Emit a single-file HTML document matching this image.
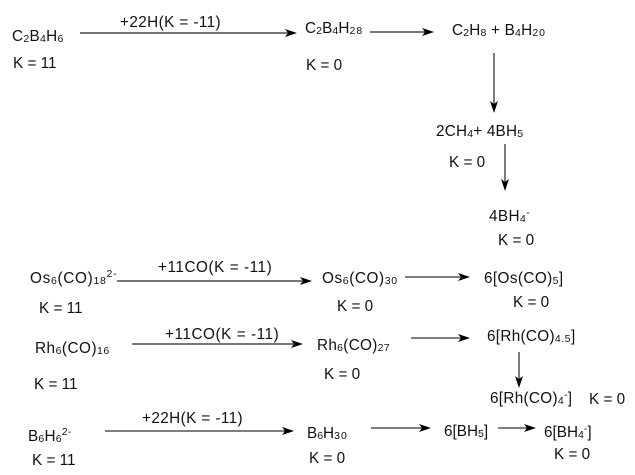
<!DOCTYPE html>
<html><head><meta charset="utf-8"><style>
html,body{margin:0;padding:0;background:#fff;width:635px;height:475px;overflow:hidden}
svg{display:block}
text{font-family:"Liberation Sans",Arial,sans-serif;font-size:15.3px;fill:#111}
.s{font-size:10.5px}
</style></head><body>
<svg width="635" height="475" viewBox="0 0 635 475" xmlns="http://www.w3.org/2000/svg">
<defs>
<path id="h" d="M0 0L-12-4L-9 0L-12 4Z" fill="#000"/>
<path id="v" d="M0 0L-4-12L0-9L4-12Z" fill="#000"/>
</defs>
<g stroke="#777" stroke-width="2" fill="none">
<path d="M80 33H290"/><path d="M370 32H428"/><path d="M117 281H306"/><path d="M132 344H297"/>
</g>
<g stroke="#333" stroke-width="1.3" fill="none">
<path d="M105 431H288"/><path d="M405 277H464"/><path d="M411 338H464"/><path d="M371 428H425"/><path d="M498 428H530"/>
<path d="M494 53V106"/><path d="M505 144V184"/><path d="M519 352V382"/>
</g>
<use href="#h" x="297" y="33"/><use href="#h" x="434" y="32"/><use href="#h" x="312" y="281"/><use href="#h" x="303" y="344"/>
<use href="#h" x="294" y="431"/><use href="#h" x="470" y="277"/><use href="#h" x="470" y="338"/><use href="#h" x="431" y="428"/><use href="#h" x="536" y="428"/>
<use href="#v" x="494" y="113"/><use href="#v" x="505" y="191"/><use href="#v" x="519" y="388"/>

<text x="12" y="41" letter-spacing=".3">C<tspan class="s" dy="1">2</tspan><tspan dy="-1">B</tspan><tspan class="s" dy="1">4</tspan><tspan dy="-1">H</tspan><tspan class="s" dy="1">6</tspan></text>
<text x="13" y="68">K = 11</text>
<text x="120" y="27" letter-spacing=".4">+22H(K = -11)</text>
<text x="305" y="33" letter-spacing=".1">C<tspan class="s" dy="1">2</tspan><tspan dy="-1">B</tspan><tspan class="s" dy="1">4</tspan><tspan dy="-1">H</tspan><tspan class="s" dy="1" letter-spacing="1">28</tspan></text>
<text x="306" y="70">K = 0</text>
<text x="452" y="35" letter-spacing=".2">C<tspan class="s" dy="1">2</tspan><tspan dy="-1">H</tspan><tspan class="s" dy="1">8</tspan><tspan dy="-1"> + B</tspan><tspan class="s" dy="1">4</tspan><tspan dy="-1">H</tspan><tspan class="s" dy="1" letter-spacing="1">20</tspan></text>
<text x="436" y="136" letter-spacing=".2">2CH<tspan class="s" dy="1">4</tspan><tspan dy="-1">+ 4BH</tspan><tspan class="s" dy="1">5</tspan></text>
<text x="449" y="167">K = 0</text>
<text x="489" y="221" letter-spacing=".4">4BH<tspan class="s" dy="1">4</tspan><tspan class="s" dy="-6">-</tspan></text>
<text x="498" y="245">K = 0</text>

<text x="30" y="283" letter-spacing=".7">Os<tspan class="s" dy="1">6</tspan><tspan dy="-1">(CO)</tspan><tspan class="s" dy="1">18</tspan><tspan class="s" dy="-7">2-</tspan></text>
<text x="39" y="313">K = 11</text>
<text x="158" y="272" letter-spacing=".55">+11CO(K = -11)</text>
<text x="322" y="283" letter-spacing=".6">Os<tspan class="s" dy="1">6</tspan><tspan dy="-1">(CO)</tspan><tspan class="s" dy="1">30</tspan></text>
<text x="337" y="311">K = 0</text>
<text x="484" y="283" letter-spacing=".4">6[Os(CO)<tspan class="s" dy="1">5</tspan><tspan dy="-1">]</tspan></text>
<text x="513" y="307">K = 0</text>

<text x="35" y="353" letter-spacing=".5">Rh<tspan class="s" dy="1">6</tspan><tspan dy="-1">(CO)</tspan><tspan class="s" dy="1">16</tspan></text>
<text x="34" y="389">K = 11</text>
<text x="165" y="339" letter-spacing=".55">+11CO(K = -11)</text>
<text x="317" y="350" letter-spacing=".3">Rh<tspan class="s" dy="1">6</tspan><tspan dy="-1">(CO)</tspan><tspan class="s" dy="1">27</tspan></text>
<text x="324" y="379">K = 0</text>
<text x="487" y="341" letter-spacing=".3">6[Rh(CO)<tspan class="s" dy="1" letter-spacing=".5">4.5</tspan><tspan dy="-1">]</tspan></text>
<text x="490" y="403" letter-spacing=".3">6[Rh(CO)<tspan class="s" dy="1">4</tspan><tspan class="s" dy="-6">-</tspan><tspan dy="5">]</tspan></text>
<text x="589" y="404">K = 0</text>

<text x="28" y="441" letter-spacing=".2">B<tspan class="s" dy="1">6</tspan><tspan dy="-1">H</tspan><tspan class="s" dy="1">6</tspan><tspan class="s" dy="-7">2-</tspan></text>
<text x="32" y="465">K = 11</text>
<text x="142" y="423" letter-spacing=".4">+22H(K = -11)</text>
<text x="307" y="438">B<tspan class="s" dy="1">6</tspan><tspan dy="-1">H</tspan><tspan class="s" dy="1" letter-spacing="1">30</tspan></text>
<text x="309" y="463">K = 0</text>
<text x="444" y="436">6[BH<tspan class="s" dy="1">5</tspan><tspan dy="-1">]</tspan></text>
<text x="544" y="437">6[BH<tspan class="s" dy="1">4</tspan><tspan class="s" dy="-6">-</tspan><tspan dy="5">]</tspan></text>
<text x="554" y="459">K = 0</text>
</svg>
</body></html>
